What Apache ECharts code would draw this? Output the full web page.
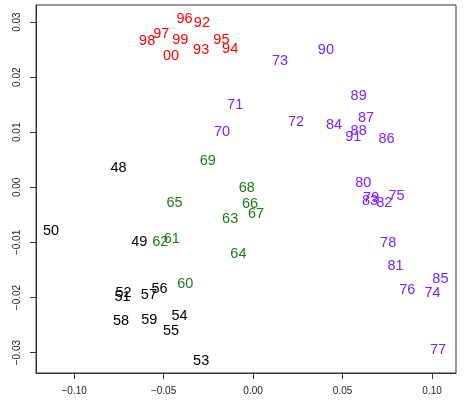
<!DOCTYPE html>
<html>
<head>
<meta charset="utf-8">
<script src="https://cdn.jsdelivr.net/npm/echarts@6/dist/echarts.min.js"></script>
<style>html,body{margin:0;padding:0;background:#fff}#c{width:466px;height:402px}</style>
</head>
<body>
<div id="c"></div>
<script>
// Black group (1948-1959)
var blackLabels = ["48","49","50","51","52","53","54","55","56","57","58","59"];
var blackX = [-0.0752,-0.0636,-0.1129,-0.0729,-0.0724,-0.0290,-0.0411,-0.0458,-0.0523,-0.0582,-0.0738,-0.0580];
var blackY = [0.0036,-0.0100,-0.0079,-0.0199,-0.0192,-0.0315,-0.0233,-0.0260,-0.0184,-0.0195,-0.0242,-0.0240];
// Green group (1960-1969)
var greenLabels = ["60","61","62","63","64","65","66","67","68","69"];
var greenX = [-0.0379,-0.0454,-0.0519,-0.0128,-0.0082,-0.0439,-0.0017,0.0017,-0.0035,-0.0253];
var greenY = [-0.0176,-0.0094,-0.0100,-0.0057,-0.0121,-0.0029,-0.0030,-0.0048,-0.0001,0.0048];
// Purple group (1970-1991)
var purpleLabels = ["70","71","72","73","74","75","76","77","78","79","80","81","82","83","84","85","86","87","88","89","90","91"];
var purpleX = [-0.0173,-0.0100,0.0240,0.0151,0.1003,0.0802,0.0862,0.1034,0.0755,0.0660,0.0616,0.0796,0.0733,0.0654,0.0452,0.1047,0.0746,0.0631,0.0590,0.0590,0.0407,0.0560];
var purpleY = [0.0101,0.0149,0.0118,0.0229,-0.0191,-0.0015,-0.0187,-0.0295,-0.0101,-0.0019,0.0008,-0.0143,-0.0029,-0.0025,0.0113,-0.0166,0.0088,0.0125,0.0102,0.0165,0.0249,0.0091];
// Red group (1992-2000)
var redLabels = ["92","93","94","95","96","97","98","99","00"];
var redX = [-0.0286,-0.0290,-0.0128,-0.0177,-0.0383,-0.0513,-0.0592,-0.0407,-0.0458];
var redY = [0.0298,0.0250,0.0251,0.0268,0.0305,0.0279,0.0266,0.0267,0.0238];

var xTicks = [-0.10,-0.05,0.00,0.05,0.10];
var xTickLabels = ["\u22120.10","\u22120.05","0.00","0.05","0.10"];
var yTicks = [-0.03,-0.02,-0.01,0.00,0.01,0.02,0.03];
var yTickLabels = ["\u22120.03","\u22120.02","\u22120.01","0.00","0.01","0.02","0.03"];

function mk(labels, xs, ys, color) {
  var data = labels.map(function(l,i){ return {name:l, value:[xs[i], ys[i]]}; });
  return {
    type: 'scatter',
    data: data,
    symbolSize: 1,
    itemStyle: {color: 'rgba(0,0,0,0)', opacity: 1},
    label: {
      show: true, position: 'inside', formatter: '{b}',
      color: color, fontSize: 14.5, fontFamily: 'Liberation Sans, Arial, sans-serif'
    },
    labelLayout: {hideOverlap: false},
    emphasis: {disabled: true},
    silent: true
  };
}
function fmt(ticks, labels){ return function(v){ for (var i=0;i<ticks.length;i++){ if (Math.abs(v-ticks[i])<1e-9) return labels[i]; } return ''; }; }

var chart = echarts.init(document.getElementById('c'), null, {renderer:'canvas'});
chart.setOption({
  animation: false,
  grid: {left: 36, right: 10, top: 5, bottom: 29, show: true, borderColor: '#333', borderWidth: 1, backgroundColor: 'transparent'},
  xAxis: {
    type: 'value', min: -0.1213, max: 0.1134,
    splitLine: {show: false},
    axisLine: {show: true, onZero: false, lineStyle: {color: '#333'}},
    axisTick: {show: true, length: 6, customValues: xTicks, lineStyle: {color: '#333'}},
    axisLabel: {customValues: xTicks, formatter: fmt(xTicks, xTickLabels), color: '#222', fontSize: 10, margin: 13, fontFamily: 'Liberation Sans, Arial, sans-serif'}
  },
  yAxis: {
    type: 'value', min: -0.0337, max: 0.0331,
    splitLine: {show: false},
    axisLine: {show: true, onZero: false, lineStyle: {color: '#333'}},
    axisTick: {show: true, length: 6, customValues: yTicks, lineStyle: {color: '#333'}},
    axisLabel: {customValues: yTicks, formatter: fmt(yTicks, yTickLabels), rotate: 90, color: '#222', fontSize: 10, margin: 19, fontFamily: 'Liberation Sans, Arial, sans-serif', verticalAlign: 'middle', align: 'center'}
  },
  series: [
    mk(blackLabels, blackX, blackY, '#000000'),
    mk(greenLabels, greenX, greenY, '#1a7a1a'),
    mk(purpleLabels, purpleX, purpleY, '#7a22ff'),
    mk(redLabels, redX, redY, '#ff0000')
  ]
});
</script>
</body>
</html>
